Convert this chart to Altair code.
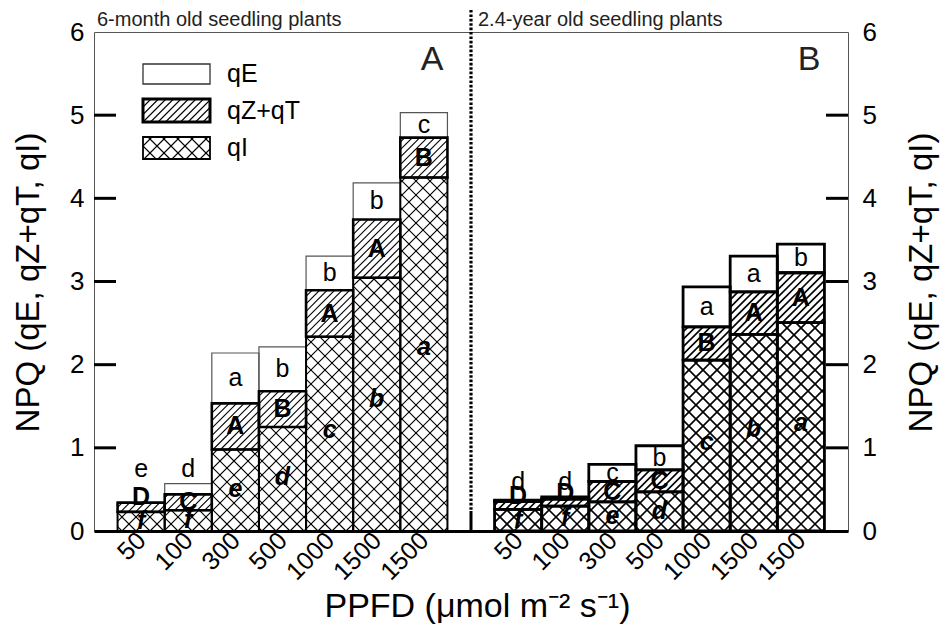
import math
import altair as alt
import pandas as pd

# ---------------- data ----------------
ppfd = ["50", "100", "300", "500", "1000", "1500", "1500"]
components = ["qE", "qZ+qT", "qI"]
panel_titles = ["6-month old seedling plants", "2.4-year old seedling plants"]
panel_letters = ["A", "B"]

# panel A (6-month old)
a_qI = [0.23, 0.25, 0.98, 1.25, 2.335, 3.045, 4.25]
a_qZT = [0.11, 0.19, 0.555, 0.43, 0.56, 0.70, 0.48]
a_qE = [0.01, 0.13, 0.605, 0.535, 0.41, 0.44, 0.30]
a_lbl_qE = ["e", "d", "a", "b", "b", "b", "c"]
a_lbl_qZT = ["D", "C", "A", "B", "A", "A", "B"]
a_lbl_qI = ["f", "f", "e", "d", "c", "b", "a"]

# panel B (2.4-year old)
b_qI = [0.26, 0.30, 0.35, 0.47, 2.055, 2.365, 2.505]
b_qZT = [0.095, 0.085, 0.245, 0.265, 0.40, 0.51, 0.60]
b_qE = [0.015, 0.025, 0.205, 0.29, 0.48, 0.43, 0.345]
b_lbl_qE = ["d", "d", "c", "b", "a", "a", "b"]
b_lbl_qZT = ["D", "D", "C", "C", "B", "A", "A"]
b_lbl_qI = ["f", "f", "e", "d", "c", "b", "a"]

y_ticks = [0, 1, 2, 3, 4, 5, 6]

# ---------------- layout ----------------
W, H = 754, 499
XMAX, YMAX = 16, 6
XU, YU = W / XMAX, H / YMAX
FONT = "Liberation Sans"

xs = alt.Scale(domain=[0, XMAX], nice=False, zero=False)
ys = alt.Scale(domain=[0, YMAX], nice=False, zero=True)

lab = [""] * (XMAX + 1)
for i, p in enumerate(ppfd):
    lab[i + 1] = p
    lab[i + 9] = p
label_expr = "[" + ",".join("'%s'" % s for s in lab) + "][datum.value]"
tick_vals = [i + 1 for i in range(7)] + [i + 9 for i in range(7)]

xaxis = alt.Axis(values=tick_vals, labelExpr=label_expr, labelAngle=315,
                 labelAlign="right", labelBaseline="middle", labelPadding=5,
                 labelFontSize=25, labelColor="black", labelFlush=False,
                 labelOverlap=False, ticks=False, grid=False,
                 domainColor="black", domainWidth=3,
                 title="PPFD (\u03bcmol m\u207b\u00b2 s\u207b\u00b9)",
                 titleFontSize=34, titleFontWeight="normal", titleColor="black",
                 titleX=383, titleY=75, titleAlign="center", titleBaseline="middle")


def hatch_lines(x0, x1, y0, y1, s, dirs):
    X0, X1, Y0, Y1 = x0 * XU, x1 * XU, y0 * YU, y1 * YU
    out = []
    for d in dirs:
        if d == 1:
            for k in range(math.ceil((Y0 - X1) / s), math.floor((Y1 - X0) / s) + 1):
                c = k * s
                a, b = max(X0, Y0 - c), min(X1, Y1 - c)
                if b - a > 0.4:
                    out.append((a / XU, (a + c) / YU, b / XU, (b + c) / YU))
        else:
            for k in range(math.ceil((X0 + Y0) / s), math.floor((X1 + Y1) / s) + 1):
                c = k * s
                a, b = max(X0, c - Y1), min(X1, c - Y0)
                if b - a > 0.4:
                    out.append((a / XU, (c - a) / YU, b / XU, (c - b) / YU))
    return out


panels = [
    dict(qI=a_qI, qZT=a_qZT, qE=a_qE, lE=a_lbl_qE, lZ=a_lbl_qZT, lI=a_lbl_qI, off=1,
         sw={"qE": 1.2, "qZT": 2.6, "qI": 2.0}, col={"qE": "#555", "qZT": "black", "qI": "black"},
         hw=1.1),
    dict(qI=b_qI, qZT=b_qZT, qE=b_qE, lE=b_lbl_qE, lZ=b_lbl_qZT, lI=b_lbl_qI, off=9,
         sw={"qE": 2.8, "qZT": 2.8, "qI": 2.8}, col={"qE": "black", "qZT": "black", "qI": "black"},
         hw=1.6),
]

rects, lines, tE, tZ, tI = [], [], [], [], []
for p in panels:
    n = len(p["qI"])
    tot = [p["qI"][i] + p["qZT"][i] + p["qE"][i] for i in range(n)]
    small = [p["qE"][i] < 0.2 for i in range(n)]
    for i in range(n):
        xc = p["off"] + i
        x0, x1 = xc - 0.5, xc + 0.5
        b0, b1 = 0.0, p["qI"][i]
        z1 = b1 + p["qZT"][i]
        e1 = tot[i]
        segs = [("qE", z1, e1), ("qZT", b1, z1), ("qI", b0, b1)]
        for key, lo, hi in segs:
            rects.append(dict(x0=x0, x1=x1, y0=lo, y1=hi, sw=p["sw"][key], col=p["col"][key]))
        for (ax, ay, bx, by) in hatch_lines(x0, x1, b1, z1, 7.5, [1]):
            lines.append(dict(x0=ax, y0=ay, x1=bx, y1=by, sw=p["hw"]))
        for (ax, ay, bx, by) in hatch_lines(x0, x1, b0, b1, 14, [1, -1]):
            lines.append(dict(x0=ax, y0=ay, x1=bx, y1=by, sw=p["hw"]))
        # letter positions
        if small[i]:
            run = [tot[j] for j in range(max(0, i - 1), min(n, i + 2)) if small[j]]
            yE = max(run) + 0.18
        else:
            yE = (z1 + e1) / 2
        yZ = (b1 + z1) / 2 if (z1 - b1) >= 0.15 else z1 + 0.07
        yI = b1 * 0.52
        tE.append(dict(xc=xc, yc=yE, t=p["lE"][i]))
        tZ.append(dict(xc=xc, yc=yZ, t=p["lZ"][i]))
        tI.append(dict(xc=xc, yc=yI, t=p["lI"][i]))

# legend boxes (plot-pixel layout converted to data units)
leg_px = [(32, 52), (67, 90), (105, 127)]
leg_x0, leg_x1 = 49 / XU, 116 / XU
leg_sw = [1.3, 3.0, 1.8]
leg_rows = []
for k, comp in enumerate(components):
    top, bot = leg_px[k]
    ly1, ly0 = (H - top) / YU, (H - bot) / YU
    rects.append(dict(x0=leg_x0, x1=leg_x1, y0=ly0, y1=ly1, sw=leg_sw[k],
                      col="#333" if k == 0 else "black"))
    if k == 1:
        for (ax, ay, bx, by) in hatch_lines(leg_x0, leg_x1, ly0, ly1, 7.5, [1]):
            lines.append(dict(x0=ax, y0=ay, x1=bx, y1=by, sw=1.1))
    if k == 2:
        for (ax, ay, bx, by) in hatch_lines(leg_x0, leg_x1, ly0, ly1, 14, [1, -1]):
            lines.append(dict(x0=ax, y0=ay, x1=bx, y1=by, sw=1.1))
    leg_rows.append(dict(xc=133 / XU, yc=(ly0 + ly1) / 2, t=comp))

rects_df = pd.DataFrame(rects).sort_values("sw", kind="stable")
lines_df = pd.DataFrame(lines)

X = lambda f: alt.X(f + ":Q", scale=xs, axis=xaxis)
Y = lambda f: alt.Y(f + ":Q", scale=ys, axis=None)

hatch = alt.Chart(lines_df).mark_rule(color="black", strokeCap="butt").encode(
    x=X("x0"), x2="x1", y=Y("y0"), y2="y1",
    strokeWidth=alt.StrokeWidth("sw:Q", scale=None))

outline = alt.Chart(rects_df).mark_rect(fillOpacity=0).encode(
    x=X("x0"), x2="x1", y=Y("y0"), y2="y1",
    stroke=alt.Stroke("col:N", scale=None),
    strokeWidth=alt.StrokeWidth("sw:Q", scale=None))


def letters(rows, **kw):
    return alt.Chart(pd.DataFrame(rows)).mark_text(
        fontSize=25, color="black", align="center", baseline="middle", **kw).encode(
        x=X("xc"), y=Y("yc"), text="t:N")


txtE = letters(tE)
txtZ = letters(tZ, fontWeight="bold")
txtI = letters(tI, fontWeight="bold", fontStyle="italic")
legend_txt = alt.Chart(pd.DataFrame(leg_rows)).mark_text(
    fontSize=25, align="left", baseline="middle", color="black").encode(
    x=X("xc"), y=Y("yc"), text="t:N")

tick_df = pd.DataFrame({"yv": y_ticks[1:-1]})
common_axis = dict(values=y_ticks, ticks=False, domain=False, grid=False,
                   labelFontSize=26, labelColor="black", labelFlush=False,
                   labelOverlap=False, title="NPQ (qE, qZ+qT, qI)",
                   titleFontSize=33, titleFontWeight="normal", titleColor="black",
                   titleY=250, titleAngle=270, titleAlign="center", titleBaseline="middle")
ticks_left = alt.Chart(tick_df).mark_rule(color="black", strokeWidth=3).encode(
    x=alt.value(0), x2=alt.value(22),
    y=alt.Y("yv:Q", scale=ys, axis=alt.Axis(orient="left", labelPadding=10,
                                               titleX=-66, **common_axis)))
ticks_right = alt.Chart(tick_df).mark_rule(color="black", strokeWidth=3).encode(
    x=alt.value(W - 22), x2=alt.value(W),
    y=alt.Y("yv:Q", scale=ys, axis=alt.Axis(orient="right", labelPadding=14,
                                               titleX=73, **common_axis)))

div_df = pd.DataFrame({"x0": [8]})
divider = alt.Chart(div_df).mark_rule(color="black", strokeWidth=3.2,
                                      strokeDash=[2.6, 1.8], strokeCap="butt").encode(
    x=X("x0"), y=alt.value(-22), y2=alt.value(H - 20))
divider_solid = alt.Chart(div_df).mark_rule(color="black", strokeWidth=3).encode(
    x=X("x0"), y=alt.value(H - 20), y2=alt.value(H))


def free_text(t, x, y, size, align="left"):
    return alt.Chart(pd.DataFrame({"t": [t]})).mark_text(
        fontSize=size, align=align, baseline="middle", color="#222").encode(
        x=alt.value(x), y=alt.value(y), text="t:N")


title_a = free_text(panel_titles[0], 3, -12, 20)
title_b = free_text(panel_titles[1], 384, -12, 20)
letter_a = free_text(panel_letters[0], 338, 28, 34, "center")
letter_b = free_text(panel_letters[1], 715, 28, 34, "center")

chart = alt.layer(
    hatch, outline, txtE, txtZ, txtI, legend_txt, ticks_left, ticks_right,
    divider, divider_solid, title_a, title_b, letter_a, letter_b
).resolve_scale(y="independent").properties(
    width=W, height=H,
    padding={"left": 86, "top": 24, "right": 93, "bottom": 98},
    autosize=alt.AutoSizeParams(type="none"),
).configure(font=FONT).configure_view(stroke="#555", strokeWidth=1)

chart.save("out.html", embed_options={"renderer": "svg", "actions": False})
